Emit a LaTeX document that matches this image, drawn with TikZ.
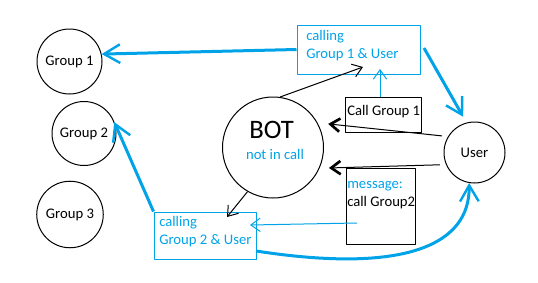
\documentclass[tikz,border=0pt]{standalone}
\usepackage{fontspec}
\setmainfont{Carlito}
\usetikzlibrary{arrows.meta}
\definecolor{PaintBlue}{HTML}{00A2E8}
\tikzset{
  grp/.style={circle,draw=black,line width=0.75pt,inner sep=0pt,font=\fontsize{11}{13.5}\selectfont},
  bluebox/.style={draw=PaintBlue,line width=0.75pt,inner sep=0pt},
  blackbox/.style={draw=black,line width=0.75pt,inner sep=0pt},
  txt/.style={anchor=base west,inner sep=0pt,font=\fontsize{11}{13.5}\selectfont},
  fatarr/.style={-{Straight Barb[length=12pt,width=14pt,line width=1.8pt]},line width=2.25pt,draw=PaintBlue},
  thinarr/.style={-{Straight Barb[length=7pt,width=10pt]},line width=0.75pt},
  boldarr/.style={-{Straight Barb[length=7pt,width=10pt,line width=2pt]},line width=0.75pt,draw=black},
}
\begin{document}
\begin{tikzpicture}[x=0.75pt,y=-0.75pt,line join=round]
\useasboundingbox (0,0) rectangle (538,282);
\node[grp,minimum size=48.75pt] (g1) at (69.5,61.5) {Group 1};
\node[grp,minimum size=48pt] (g2) at (84,133.5) {Group 2};
\node[grp,minimum size=49.9pt] (g3) at (70,214.5) {Group 3};
\node[grp,minimum size=75.75pt] (bot) at (273,147.5) {};
\node[grp,minimum size=45.75pt] (user) at (474.5,152.5) {User};
\node[anchor=base,inner sep=0pt,font=\fontsize{20}{24}\selectfont] (botname) at (271.5,138) {BOT};
\node[anchor=base,inner sep=0pt,font=\fontsize{11}{13.5}\selectfont,text=PaintBlue] (botstate) at (275,159) {not in call};
\node[bluebox,minimum width=92.25pt,minimum height=36.75pt] (call1) at (358.5,49.5) {};
\node[txt,text=PaintBlue] (call1a) at (306,40) {calling};
\node[txt,text=PaintBlue] (call1b) at (306,58) {Group 1 \& User};
\node[blackbox,minimum width=57pt,minimum height=26.25pt] (cmd1) at (383,114.5) {};
\node[txt] (cmd1a) at (347,115) {Call Group 1};
\node[blackbox,minimum width=51.75pt,minimum height=57pt] (msg2) at (380.5,206) {};
\node[txt,text=PaintBlue] (msg2a) at (347,188) {message:};
\node[txt] (msg2b) at (347,206) {call Group2};
\node[bluebox,minimum width=76.5pt,minimum height=35.25pt] (call2) at (205,235.5) {};
\node[txt,text=PaintBlue] (call2a) at (159,226) {calling};
\node[txt,text=PaintBlue] (call2b) at (159,244) {Group 2 \& User};
\coordinate (c1in) at (363,67);
\coordinate (c1mid) at (380,69);
\coordinate (c2in) at (227,217);
\coordinate (c2right) at (250,225);
\coordinate (msgout) at (357,223);
\coordinate (c2low) at (256,251);
\coordinate (c1right) at (424,48);
\draw[fatarr] (call1.west) -- (g1.13);
\draw[fatarr,shorten >=5pt] (c1right) -- (user.105);
\draw[thinarr] (bot.82) -- (c1in);
\draw[thinarr,draw=PaintBlue] (c1mid |- cmd1.north) -- (c1mid);
\draw[boldarr,shorten <=4.5pt,shorten >=8pt] (user.149) -- (bot.29);
\draw[boldarr,shorten <=4.5pt,shorten >=7pt] (user.203) -- (bot.-24);
\draw[thinarr] (bot.240) -- (c2in);
\draw[thinarr,draw=PaintBlue] (msgout) -- (c2right);
\draw[fatarr,shorten >=4pt] (call2.north west) -- (g2.30);
\draw[fatarr] (c2low) .. controls (405,274) and (470,245) .. (user.260);
\end{tikzpicture}
\end{document}
